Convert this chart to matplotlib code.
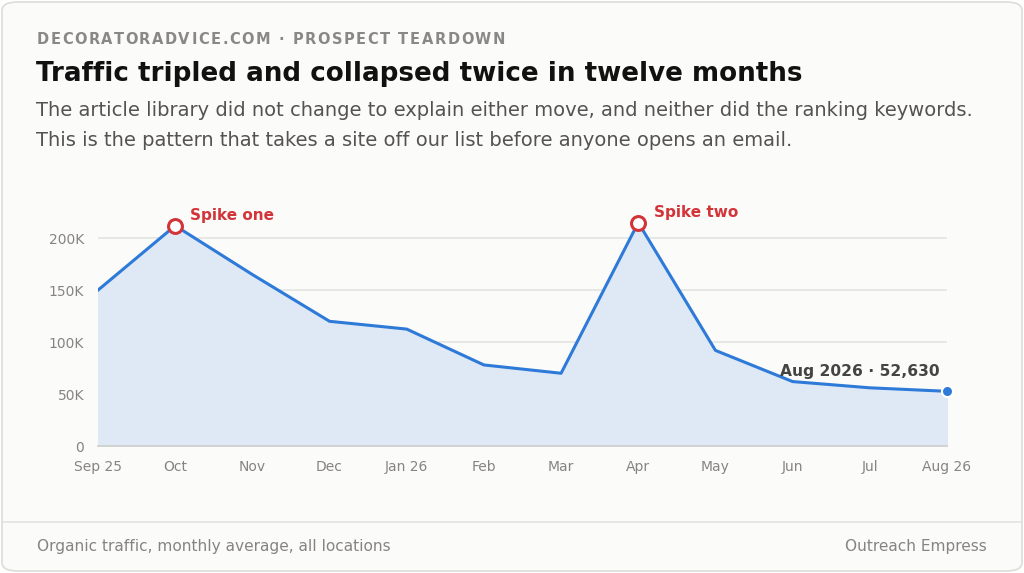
import matplotlib
matplotlib.use("Agg")
import matplotlib.pyplot as plt
from matplotlib.patches import FancyBboxPatch
from matplotlib.lines import Line2D

months = ["Sep 25", "Oct", "Nov", "Dec", "Jan 26", "Feb", "Mar",
          "Apr", "May", "Jun", "Jul", "Aug 26"]
traffic = [150000, 212000, 165000, 120000, 112500, 78000, 70000,
           215000, 92000, 62000, 56000, 52630]
spikes = {1: "Spike one", 7: "Spike two"}
yticks = [0, 50000, 100000, 150000, 200000]
ytick_labels = ["0", "50K", "100K", "150K", "200K"]

eyebrow = "DECORATORADVICE.COM · PROSPECT TEARDOWN"
title = "Traffic tripled and collapsed twice in twelve months"
subtitle = ["The article library did not change to explain either move, and neither did the ranking keywords.",
            "This is the pattern that takes a site off our list before anyone opens an email."]
footer_left = "Organic traffic, monthly average, all locations"
footer_right = "Outreach Empress"

W, H = 1024, 573
line_col = "#2e7ad8"
red = "#d3343a"

fig = plt.figure(figsize=(W / 100, H / 100), dpi=100)
fig.patch.set_facecolor("white")

def fx(px):
    return px / W

def fy(py):
    return 1 - py / H

card = FancyBboxPatch((fx(2), fy(571)), fx(1020), 569 / H,
                      boxstyle="round,pad=0,rounding_size=0.015",
                      transform=fig.transFigure, facecolor="#fbfbf9",
                      edgecolor="#dcdcd8", linewidth=1.2, zorder=-10)
fig.patches.append(card)
fig.add_artist(Line2D([fx(2), fx(1022)], [fy(522), fy(522)],
                      transform=fig.transFigure, color="#e2e2de", lw=1.2,
                      zorder=-5))

# eyebrow with letter spacing: measure prefix widths, spread to target width
renderer = fig.canvas.get_renderer()
probe = fig.text(0, 0, "", fontsize=10.5, fontweight="bold")

def width_of(s):
    probe.set_text(s + "|")
    w = probe.get_window_extent(renderer).width
    probe.set_text("|")
    return w - probe.get_window_extent(renderer).width

natural = width_of(eyebrow)
track = (468 - natural) / (len(eyebrow) - 1)
for k, ch in enumerate(eyebrow):
    x = 37 + width_of(eyebrow[:k]) + k * track
    fig.text(fx(x), fy(39), ch, fontsize=10.5, fontweight="bold",
             color="#8a8885", va="center", ha="left")
probe.remove()

fig.text(fx(36), fy(74), title, fontsize=18.8, fontweight="bold",
         color="#111111", va="center", ha="left")
fig.text(fx(36), fy(111), subtitle[0], fontsize=14, color="#555350",
         va="center", ha="left")
fig.text(fx(36), fy(140), subtitle[1], fontsize=14, color="#555350",
         va="center", ha="left")
fig.text(fx(37), fy(547), footer_left, fontsize=11.1, color="#86847f",
         va="center", ha="left")
fig.text(fx(987), fy(547), footer_right, fontsize=11.1, color="#86847f",
         va="center", ha="right")

ax = fig.add_axes([fx(98), fy(446), fx(947) - fx(98), (446 - 207) / H])
ax.set_facecolor("none")
xs = list(range(len(months)))
ax.fill_between(xs, traffic, 0, color="#dfe9f5", zorder=1)
ax.plot(xs, traffic, color=line_col, lw=2.2, zorder=3)
for i, label in spikes.items():
    ax.plot(xs[i], traffic[i], "o", ms=10, mfc="white", mec=red,
            mew=2.2, zorder=5)
    ax.annotate(label, (xs[i], traffic[i]), xytext=(11, 7),
                textcoords="offset points", color=red, fontsize=11,
                fontweight="bold", va="center", ha="left")
ax.plot(xs[-1], traffic[-1], "o", ms=8, mfc=line_col, mec="white",
        mew=1.5, zorder=5, clip_on=False)
ax.annotate("Aug 2026 · " + format(traffic[-1], ","), (xs[-1], traffic[-1]),
            xytext=(-5, 14), textcoords="offset points", color="#444444",
            fontsize=11.2, fontweight="bold", va="center", ha="right")

ax.set_xlim(0, len(months) - 1)
ax.set_ylim(0, 230000)
ax.set_xticks(xs)
ax.set_xticklabels(months)
ax.set_yticks(yticks)
ax.set_yticklabels(ytick_labels)
ax.grid(axis="y", color="#e3e3df", lw=1.2, zorder=0)
ax.set_axisbelow(True)
for s in ["top", "right", "left"]:
    ax.spines[s].set_visible(False)
ax.spines["bottom"].set_color("#cfcfcb")
ax.spines["bottom"].set_linewidth(1.2)
ax.tick_params(axis="both", length=0, colors="#86847f", labelsize=10)
ax.tick_params(axis="x", pad=10)
ax.tick_params(axis="y", pad=10)

fig.savefig("out.png", dpi=100, facecolor="white")
